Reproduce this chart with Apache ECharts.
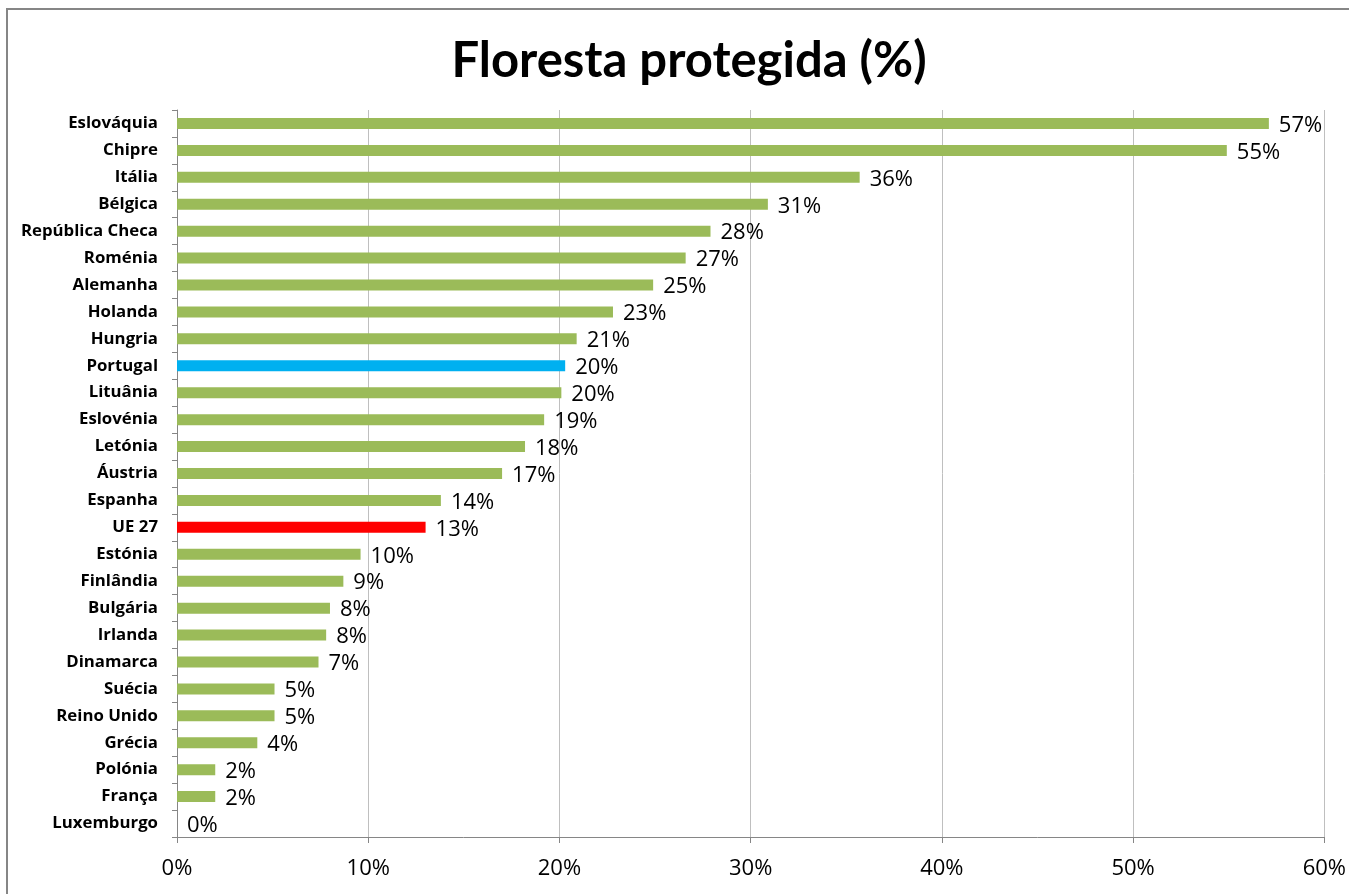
<!DOCTYPE html>
<html>
<head>
<meta charset="utf-8">
<script src="https://cdn.jsdelivr.net/npm/echarts@6/dist/echarts.min.js"></script>
<style>
html,body{margin:0;padding:0;background:#fff;}
#c{width:1349px;height:894px;}
</style>
</head>
<body>
<div id="c"></div>
<script>
const categories = ["Eslováquia","Chipre","Itália","Bélgica","República Checa","Roménia","Alemanha","Holanda","Hungria","Portugal","Lituânia","Eslovénia","Letónia","Áustria","Espanha","UE 27","Estónia","Finlândia","Bulgária","Irlanda","Dinamarca","Suécia","Reino Unido","Grécia","Polónia","França","Luxemburgo"];
const values = [57.1,54.9,35.7,30.9,27.9,26.6,24.9,22.8,20.9,20.3,20.1,19.2,18.2,17.0,13.8,13.0,9.6,8.7,8.0,7.8,7.4,5.1,5.1,4.2,2.0,2.0,0];
const highlight = {"Portugal":"#00B0F0","UE 27":"#FF0000"};
const baseColor = "#9BBB59";
const xTicks = [0,10,20,30,40,50,60];

const chart = echarts.init(document.getElementById('c'));
const data = values.map((v,i)=>({value:v,itemStyle:{color:highlight[categories[i]]||baseColor}}));
chart.setOption({
  animation:false,
  backgroundColor:'#fff',
  title:{
    text:'Floresta protegida (%)',
    left:684, top:32, textAlign:'center',
    textStyle:{fontFamily:'Lato',fontWeight:'bold',fontSize:49,color:'#000'}
  },
  graphic:[{type:'rect',shape:{x:7,y:9,width:1400,height:950},style:{fill:'none',stroke:'#868686',lineWidth:2},silent:true}],
  grid:{left:177,right:24,top:110,bottom:57,containLabel:false},
  xAxis:{
    type:'value',min:xTicks[0],max:xTicks[xTicks.length-1],interval:10,
    axisLine:{show:true,lineStyle:{color:'#868686'}},
    axisTick:{show:true,length:6,lineStyle:{color:'#868686'}},
    splitLine:{show:true,lineStyle:{color:'#BFBFBF'}},
    axisLabel:{formatter:'{value}%',fontFamily:'Open Sans',fontSize:22,color:'#000',margin:21}
  },
  yAxis:{
    type:'category',data:categories,inverse:true,
    axisLine:{show:true,lineStyle:{color:'#868686'}},
    axisTick:{show:true,length:5,lineStyle:{color:'#868686'}},
    axisLabel:{fontFamily:'Open Sans',fontWeight:'bold',fontSize:16.8,color:'#000',margin:19}
  },
  series:[{
    type:'bar',data:data,barWidth:11,
    label:{show:true,position:'right',distance:10,offset:[0,2],formatter:p=>Math.round(p.value)+'%',fontFamily:'Open Sans',fontSize:22,color:'#000'}
  }]
});
</script>
</body>
</html>
